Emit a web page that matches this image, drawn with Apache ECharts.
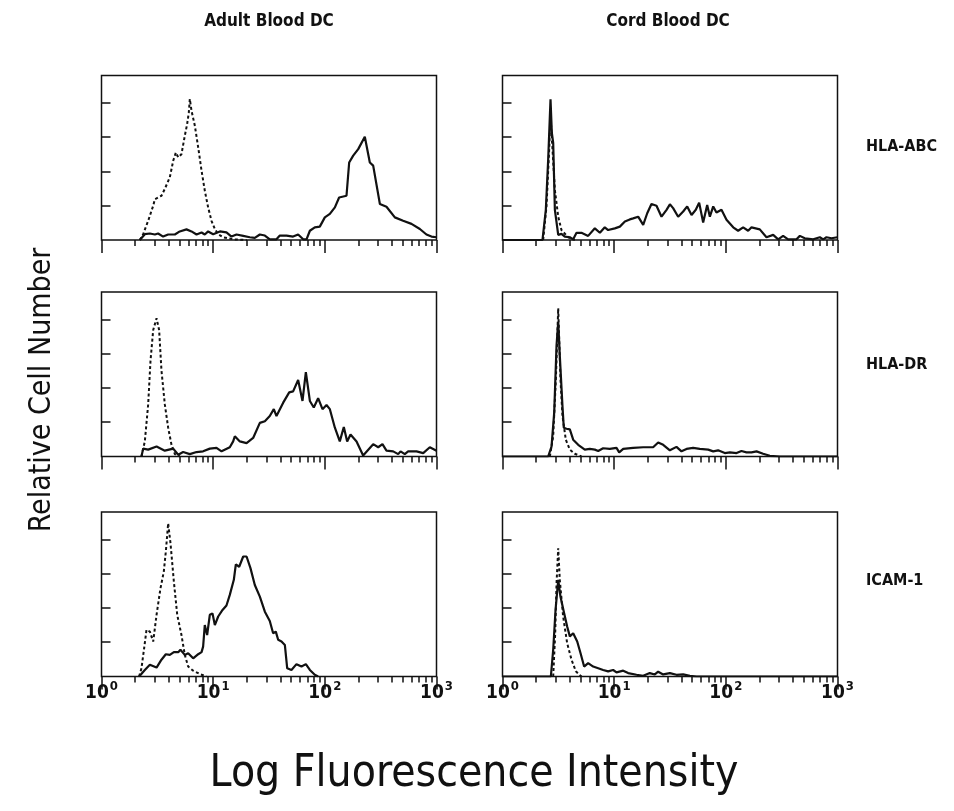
<!DOCTYPE html>
<html><head><meta charset="utf-8">
<script src="https://cdn.jsdelivr.net/npm/echarts@6/dist/echarts.min.js"></script>
<style>html,body{margin:0;padding:0;background:#fff}#c{width:954px;height:811px}</style>
</head><body><div id="c"></div>
<script>
// ---------- text ----------
const columnTitles = ['Adult Blood DC', 'Cord Blood DC'];
const rowLabels = ['HLA-ABC', 'HLA-DR', 'ICAM-1'];
const yTitle = 'Relative Cell Number';
const xTitle = 'Log Fluorescence Intensity';
// x axis is in decades (log10 of fluorescence); major ticks at 10^0..10^3
const xMajorTicks = [0, 1, 2, 3];
const xTickExponents = ['0', '1', '2', '3'];
const yTicks = [1, 2, 3, 4];

// ---------- data: [log10 fluorescence, relative cell number] ----------
const adultABC_solid = [[0.343,0],[0.388,0.17],[0.433,0.19],[0.478,0.16],[0.507,0.19],[0.552,0.10],[0.597,0.16],[0.657,0.16],[0.701,0.25],[0.761,0.31],[0.806,0.25],[0.851,0.16],[0.896,0.22],[0.925,0.16],[0.955,0.25],[1.0,0.17],[1.06,0.25],[1.119,0.22],[1.164,0.10],[1.209,0.16],[1.269,0.12],[1.328,0.08],[1.373,0.06],[1.418,0.16],[1.463,0.13],[1.507,0.02],[1.567,0.02],[1.597,0.13],[1.657,0.13],[1.716,0.10],[1.761,0.16],[1.806,0.02],[1.836,0.02],[1.866,0.27],[1.910,0.37],[1.955,0.39],[2.0,0.66],[2.045,0.76],[2.09,0.95],[2.128,1.24],[2.194,1.29],[2.218,2.26],[2.254,2.46],[2.299,2.65],[2.358,3.01],[2.403,2.26],[2.433,2.17],[2.493,1.05],[2.552,0.97],[2.627,0.66],[2.701,0.56],[2.776,0.47],[2.851,0.32],[2.910,0.16],[2.955,0.10],[3.0,0.08]];
const adultABC_dotted = [[0.343,0],[0.373,0.17],[0.418,0.56],[0.463,1.0],[0.478,1.19],[0.507,1.24],[0.537,1.29],[0.567,1.49],[0.612,1.83],[0.642,2.31],[0.666,2.55],[0.687,2.41],[0.716,2.50],[0.746,3.04],[0.767,3.38],[0.782,3.72],[0.791,4.11],[0.806,3.77],[0.836,3.33],[0.866,2.70],[0.896,2.02],[0.925,1.44],[0.955,0.95],[0.985,0.56],[1.015,0.32],[1.045,0.17],[1.09,0.08],[1.18,0.02],[1.3,0]];

const cordABC_solid = [[0,0],[0.358,0],[0.388,0.88],[0.409,2.34],[0.430,4.10],[0.442,3.12],[0.454,2.83],[0.469,0.88],[0.499,0.15],[0.528,0.18],[0.558,0.10],[0.603,0.08],[0.633,0.02],[0.663,0.21],[0.707,0.21],[0.767,0.12],[0.827,0.34],[0.872,0.21],[0.916,0.37],[0.946,0.29],[1.006,0.34],[1.051,0.39],[1.096,0.54],[1.140,0.60],[1.170,0.63],[1.215,0.68],[1.260,0.44],[1.296,0.78],[1.334,1.05],[1.379,1.0],[1.424,0.68],[1.469,0.88],[1.499,1.04],[1.528,0.93],[1.573,0.68],[1.618,0.83],[1.654,0.98],[1.693,0.73],[1.731,0.88],[1.761,1.09],[1.797,0.51],[1.833,1.02],[1.857,0.68],[1.887,0.98],[1.916,0.80],[1.961,0.88],[2.006,0.59],[2.066,0.37],[2.110,0.27],[2.155,0.37],[2.200,0.27],[2.230,0.37],[2.304,0.31],[2.364,0.08],[2.424,0.15],[2.469,0.02],[2.513,0.12],[2.558,0.02],[2.633,0.02],[2.663,0.12],[2.707,0.05],[2.782,0.02],[2.842,0.08],[2.872,0.02],[2.901,0.08],[2.946,0.05],[3.0,0.08]];
const cordABC_dotted = [[0.364,0],[0.394,0.98],[0.418,2.63],[0.430,3.61],[0.448,2.63],[0.469,1.46],[0.499,0.68],[0.528,0.29],[0.588,0.08],[0.648,0]];

const adultDR_solid = [[0.358,0],[0.373,0.23],[0.418,0.20],[0.493,0.29],[0.567,0.17],[0.642,0.23],[0.687,0.05],[0.731,0.13],[0.791,0.07],[0.851,0.13],[0.910,0.15],[0.970,0.23],[1.03,0.25],[1.075,0.15],[1.149,0.27],[1.179,0.44],[1.194,0.59],[1.239,0.44],[1.299,0.39],[1.358,0.54],[1.418,0.98],[1.463,1.03],[1.507,1.18],[1.543,1.38],[1.567,1.18],[1.627,1.57],[1.681,1.87],[1.716,1.90],[1.761,2.23],[1.800,1.62],[1.830,2.46],[1.866,1.62],[1.901,1.43],[1.940,1.70],[1.979,1.38],[2.015,1.50],[2.045,1.38],[2.090,0.84],[2.134,0.44],[2.170,0.86],[2.2,0.44],[2.230,0.64],[2.284,0.44],[2.343,0.03],[2.433,0.36],[2.478,0.27],[2.516,0.36],[2.552,0.17],[2.612,0.15],[2.657,0.07],[2.678,0.15],[2.716,0.07],[2.746,0.15],[2.821,0.15],[2.881,0.10],[2.940,0.27],[3.0,0.17]];
const adultDR_dotted = [[0.358,0],[0.388,0.44],[0.418,1.52],[0.439,2.80],[0.463,3.69],[0.493,4.03],[0.516,3.69],[0.537,2.51],[0.567,1.52],[0.597,0.84],[0.627,0.34],[0.657,0.07],[0.701,0]];

const cordDR_solid = [[0,0],[0.409,0],[0.439,0.29],[0.463,1.28],[0.484,3.24],[0.499,3.93],[0.513,2.95],[0.537,1.47],[0.549,0.84],[0.573,0.81],[0.603,0.79],[0.633,0.49],[0.678,0.34],[0.737,0.20],[0.782,0.22],[0.827,0.20],[0.857,0.16],[0.901,0.24],[0.961,0.22],[1.021,0.25],[1.045,0.12],[1.081,0.22],[1.170,0.25],[1.260,0.27],[1.349,0.27],[1.394,0.41],[1.439,0.34],[1.499,0.18],[1.558,0.28],[1.603,0.15],[1.648,0.22],[1.707,0.25],[1.767,0.22],[1.842,0.20],[1.887,0.15],[1.931,0.18],[1.991,0.10],[2.036,0.12],[2.096,0.10],[2.140,0.16],[2.185,0.12],[2.230,0.12],[2.275,0.15],[2.334,0.08],[2.394,0.02],[2.484,0],[3.0,0]];
const cordDR_dotted = [[0.424,0],[0.454,0.59],[0.478,2.26],[0.499,4.32],[0.519,2.26],[0.537,1.18],[0.567,0.49],[0.603,0.20],[0.648,0.08],[0.707,0]];

const adultICAM_solid = [[0.337,0],[0.388,0.19],[0.433,0.34],[0.493,0.26],[0.537,0.49],[0.576,0.65],[0.612,0.63],[0.648,0.71],[0.687,0.71],[0.707,0.78],[0.746,0.63],[0.776,0.68],[0.821,0.53],[0.866,0.65],[0.896,0.71],[0.910,0.87],[0.925,1.50],[0.946,1.21],[0.970,1.80],[0.994,1.84],[1.015,1.50],[1.045,1.75],[1.084,1.94],[1.119,2.07],[1.149,2.38],[1.185,2.82],[1.203,3.27],[1.233,3.20],[1.269,3.50],[1.299,3.50],[1.334,3.16],[1.373,2.67],[1.418,2.33],[1.463,1.89],[1.507,1.62],[1.537,1.26],[1.561,1.31],[1.582,1.07],[1.612,1.02],[1.642,0.92],[1.663,0.24],[1.701,0.19],[1.746,0.36],[1.791,0.29],[1.830,0.36],[1.866,0.19],[1.910,0.05],[1.940,0]];
const adultICAM_dotted = [[0.337,0],[0.358,0.24],[0.382,0.83],[0.403,1.36],[0.433,1.31],[0.463,1.02],[0.493,1.80],[0.528,2.57],[0.558,3.06],[0.576,3.64],[0.597,4.47],[0.618,3.88],[0.648,2.77],[0.678,1.80],[0.716,1.21],[0.746,0.63],[0.776,0.29],[0.821,0.17],[0.881,0.07],[0.940,0]];

const cordICAM_solid = [[0,0],[0.433,0],[0.454,0.78],[0.475,1.94],[0.499,2.82],[0.519,2.33],[0.549,1.89],[0.579,1.46],[0.603,1.17],[0.633,1.26],[0.669,1.02],[0.699,0.68],[0.731,0.29],[0.767,0.39],[0.812,0.29],[0.857,0.24],[0.901,0.19],[0.946,0.15],[0.991,0.19],[1.021,0.12],[1.081,0.17],[1.125,0.10],[1.2,0.05],[1.260,0.02],[1.319,0.10],[1.364,0.06],[1.394,0.14],[1.439,0.06],[1.499,0.10],[1.558,0.05],[1.618,0.06],[1.678,0.02],[1.737,0],[3.0,0]];
const cordICAM_dotted = [[0.454,0],[0.472,1.26],[0.484,2.72],[0.499,3.74],[0.513,2.82],[0.543,1.75],[0.579,0.97],[0.618,0.49],[0.657,0.15],[0.707,0]];

// panels in reading order: row, column
const panelSolid = [adultABC_solid, cordABC_solid, adultDR_solid, cordDR_solid, adultICAM_solid, cordICAM_solid];
const panelDotted = [adultABC_dotted, cordABC_dotted, adultDR_dotted, cordDR_dotted, adultICAM_dotted, cordICAM_dotted];

// ---------- layout ----------
const NARROW = "'Liberation Sans Narrow','DejaVu Sans Condensed','Arial Narrow',sans-serif";
const INK = '#111';
const colLeft = [101.5, 502.5];
const plotW = 335;
const rowBottom = [240, 456.5, 676.5];
const Y_MAX = 4.8;
const plotH = 164.6;

// minor tick positions (log10 of 2..9 in each decade)
const minorTicks = [];
for (let d = 0; d < 3; d++) for (let k = 2; k <= 9; k++) minorTicks.push(d + Math.log10(k));

const grid = [], xAxis = [], yAxis = [], series = [];
for (let r = 0; r < 3; r++) {
  for (let c = 0; c < 2; c++) {
    const i = r * 2 + c;
    grid.push({left: colLeft[c], top: rowBottom[r] - plotH, width: plotW, height: plotH,
      show: true, borderColor: INK, borderWidth: 1.5, backgroundColor: 'transparent'});
    xAxis.push({gridIndex: i, type: 'value', min: 0, max: 3, interval: 1, position: 'bottom',
      axisLine: {show: false}, splitLine: {show: false},
      axisTick: {show: true, inside: false, length: 13, lineStyle: {color: INK, width: 1.5}},
      axisLabel: {show: r === 2, margin: 4, color: INK,
        formatter: v => '{b|10}{s|' + xTickExponents[xMajorTicks.indexOf(Math.round(v))] + '}',
        rich: {b: {fontSize: 19, fontWeight: 'bold', fontFamily: NARROW, color: INK, lineHeight: 22},
               s: {fontSize: 13, fontWeight: 'bold', fontFamily: NARROW, color: INK, padding: [0, 0, 12, 1]}}}});
    xAxis.push({gridIndex: i, type: 'value', min: 0, max: 3, position: 'bottom',
      axisLine: {show: false}, splitLine: {show: false}, axisLabel: {show: false},
      axisTick: {show: true, inside: false, length: 6, customValues: minorTicks, lineStyle: {color: INK, width: 1.5}}});
    yAxis.push({gridIndex: i, type: 'value', min: 0, max: Y_MAX,
      axisLine: {show: false}, splitLine: {show: false}, axisLabel: {show: false},
      axisTick: {show: true, inside: true, length: 9, customValues: yTicks, lineStyle: {color: INK, width: 1.5}}});
    series.push({type: 'line', xAxisIndex: 2 * i, yAxisIndex: i, data: panelSolid[i],
      showSymbol: false, symbol: 'none', lineStyle: {color: INK, width: 2.2}, z: 3});
    series.push({type: 'line', xAxisIndex: 2 * i, yAxisIndex: i, data: panelDotted[i],
      showSymbol: false, symbol: 'none', lineStyle: {color: INK, width: 2, type: [3, 2.5]}, z: 2});
  }
}

const txt = (x, y, text, font, align, rot) => ({type: 'text', x: x, y: y, rotation: rot || 0,
  style: {text: text, font: font, fill: INK, align: align || 'center', verticalAlign: 'middle',
          textAlign: align || 'center', textVerticalAlign: 'middle'}});

const graphic = [
  txt(269, 22, columnTitles[0], 'bold 17px ' + NARROW),
  txt(668, 22, columnTitles[1], 'bold 17px ' + NARROW),
  txt(866, 147, rowLabels[0], 'bold 16px ' + NARROW, 'left'),
  txt(866, 365, rowLabels[1], 'bold 16px ' + NARROW, 'left'),
  txt(866, 581, rowLabels[2], 'bold 16px ' + NARROW, 'left'),
  txt(42, 390, yTitle, '30px ' + NARROW, 'center', Math.PI / 2),
  txt(474, 775, xTitle, '44px ' + NARROW)
];

const chart = echarts.init(document.getElementById('c'), null, {renderer: 'canvas'});
chart.setOption({animation: false, grid, xAxis, yAxis, series, graphic});
</script>
</body></html>
